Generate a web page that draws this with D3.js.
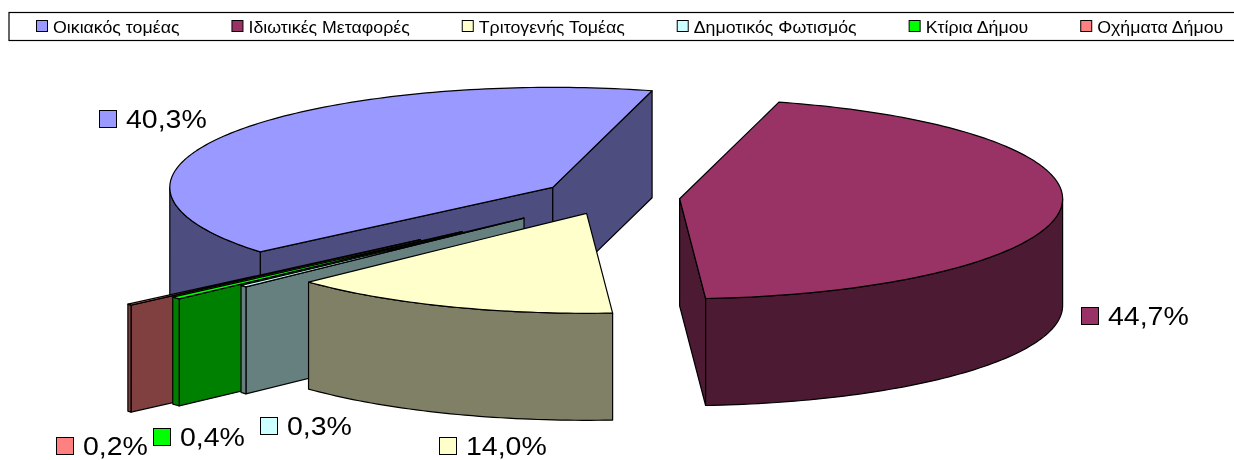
<!DOCTYPE html>
<html>
<head>
<meta charset="utf-8">
<script src="https://cdn.jsdelivr.net/npm/d3@7"></script>
<style>
    html, body { margin: 0; background: #fff; overflow: hidden; }
    svg { display: block; font-family: "Liberation Sans", Arial, sans-serif; filter: blur(0.35px); }
</style>
</head>
<body>
<div id="chart"></div>
<script>
const categories = ["Οικιακός τομέας", "Ιδιωτικές Μεταφορές", "Τριτογενής Τομέας", "Δημοτικός Φωτισμός", "Κτίρια Δήμου", "Οχήματα Δήμου"];
const shares = [40.3, 44.7, 14.0, 0.3, 0.4, 0.2];
const explosions = [0.18, 0.18, 0.175, 0.31, 0.52, 0.655];
const colors = ["#9999ff", "#993366", "#ffffcc", "#ccffff", "#00ff00", "#ff8080"];

const width = 1234;
const height = 460;

// pie geometry, the tilted disc is just an ellipse
const cx = 611, cy = 197;
const rx = 383, ry = 100;
const depth = 107;
const firstAngle = 229.8 * Math.PI / 180;

// back to front
const drawOrder = [0, 1, 5, 4, 3, 2];

const labelAnchors = [[99, 110], [1081, 307], [439, 437], [260, 417], [153, 428], [56, 437]];

const svg = d3.select("#chart").append("svg")
    .attr("width", width)
    .attr("height", height);

const pieData = d3.pie().sort(null)
    .startAngle(firstAngle)
    .endAngle(firstAngle + 2 * Math.PI)(shares);

const shade = c => {
    const rgb = d3.rgb(c);
    return d3.rgb(rgb.r / 2, rgb.g / 2, rgb.b / 2).formatHex();
};

const line = d3.line();

function apex(d, i) {
    const mid = (d.startAngle + d.endAngle) / 2;
    return [cx + explosions[i] * rx * Math.sin(mid), cy - explosions[i] * ry * Math.cos(mid)];
}

function rimPoint(o, angle, z = 0) {
    return [o[0] + rx * Math.sin(angle), o[1] - ry * Math.cos(angle) + z];
}

function arcPoints(o, a0, a1, z = 0) {
    const n = Math.max(2, Math.ceil((a1 - a0) / 0.02));
    return d3.range(n + 1).map(k => rimPoint(o, a0 + (a1 - a0) * k / n, z));
}

// the part of the rim facing the viewer (90deg to 270deg clockwise from top)
function frontSpans(a0, a1) {
    return [0, 1].map(k => [
        Math.max(a0, Math.PI / 2 + 2 * Math.PI * k),
        Math.min(a1, 3 * Math.PI / 2 + 2 * Math.PI * k)
    ]).filter(s => s[1] > s[0]);
}

const pieG = svg.append("g").attr("class", "pie");

drawOrder.forEach(i => {
    const d = pieData[i];
    const o = apex(d, i);
    const g = pieG.append("g").attr("class", "slice-" + i)
        .attr("stroke", "#000")
        .attr("stroke-width", 1.2)
        .attr("stroke-linejoin", "round");
    const dark = shade(colors[i]);

    const wall = angle => {
        const rim = rimPoint(o, angle);
        g.append("path")
            .attr("fill", dark)
            .attr("d", line([o, rim, [rim[0], rim[1] + depth], [o[0], o[1] + depth]]) + "Z");
    };

    if (Math.sin(d.startAngle) < 0) wall(d.startAngle);
    if (Math.sin(d.endAngle) > 0) wall(d.endAngle);

    frontSpans(d.startAngle, d.endAngle).forEach(s => {
        const top = arcPoints(o, s[0], s[1]);
        const bottom = arcPoints(o, s[0], s[1], depth).reverse();
        g.append("path")
            .attr("fill", dark)
            .attr("d", line(top.concat(bottom)) + "Z");
    });

    g.append("path")
        .attr("fill", colors[i])
        .attr("d", line([o].concat(arcPoints(o, d.startAngle, d.endAngle))) + "Z");
});

// data labels
const fmt = v => d3.format(".1f")(v).replace(".", ",") + "%";

const labels = svg.append("g").attr("class", "labels");

labels.selectAll("rect")
    .data(shares)
    .join("rect")
    .attr("x", (d, i) => labelAnchors[i][0] + 0.5)
    .attr("y", (d, i) => labelAnchors[i][1] + 0.5)
    .attr("width", 17)
    .attr("height", 17)
    .attr("fill", (d, i) => colors[i])
    .attr("stroke", "#000");

labels.selectAll("text")
    .data(shares)
    .join("text")
    .attr("transform", (d, i) => `translate(${labelAnchors[i][0] + 27} ${labelAnchors[i][1] + 18}) scale(1.14 1)`)
    .attr("font-size", 25)
    .attr("fill", "#000")
    .text(fmt);

// legend, a flow layout with a fixed gap between entries
const legend = svg.append("g").attr("class", "legend");

legend.append("rect")
    .attr("x", 9)
    .attr("y", 12.5)
    .attr("width", 1240)
    .attr("height", 28)
    .attr("fill", "#fff")
    .attr("stroke", "#000")
    .attr("stroke-width", 1.2);

const legendStretch = 1.045;
let legendX = 36;
categories.forEach((name, i) => {
    legend.append("rect")
        .attr("x", legendX + 0.5)
        .attr("y", 20.5)
        .attr("width", 11)
        .attr("height", 11)
        .attr("fill", colors[i])
        .attr("stroke", "#000");
    const t = legend.append("text")
        .attr("transform", `translate(${legendX + 17} 33) scale(${legendStretch} 1)`)
        .attr("font-size", 17)
        .attr("fill", "#000")
        .text(name);
    legendX += 17 + t.node().getComputedTextLength() * legendStretch + 52;
});
</script>
</body>
</html>
